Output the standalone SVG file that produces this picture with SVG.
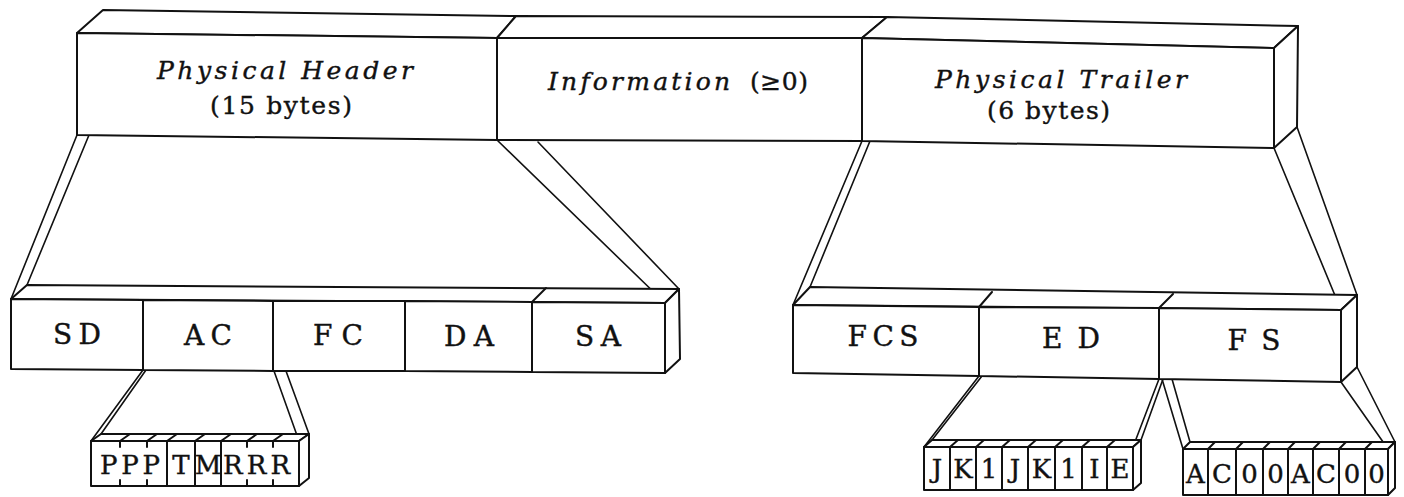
<svg xmlns="http://www.w3.org/2000/svg" width="1404" height="497" viewBox="0 0 1404 497">
  <style>
    .face { fill: #fff; stroke: #111; stroke-width: 2; stroke-linejoin: round; }
    .ln { fill: none; stroke: #111; stroke-width: 2; stroke-linecap: round; }
    .rib { fill: none; stroke: #111; stroke-width: 1.6; stroke-linecap: round; }
    text { fill: #111; stroke: #111; stroke-width: 0.4; font-family: "DejaVu Serif", "Liberation Serif", serif; }
    .it { font-style: italic; font-size: 25px; }
    .rm { font-size: 25px; }
    .fld { font-size: 28px; text-anchor: middle; }
    .bit { font-size: 26px; text-anchor: middle; }
  </style>

  <!-- ribbons joining each block to its expansion -->
  <g id="connectors">
    <path class="rib" d="M77,135 L11,299 M89,135 L27,285"/>
    <path class="rib" d="M497,140 L665,303 M538,142 L679,289"/>
    <path class="rib" d="M862,141 L793,305 M870,141 L810,287"/>
    <path class="rib" d="M1274,148 L1341,310 M1297,127 L1357,295"/>
    <path class="rib" d="M143,370 L91,441 M146,370 L101,434"/>
    <path class="rib" d="M274,371 L299,441 M286,371 L309,434"/>
    <path class="rib" d="M979,376 L924,447 M982,376 L932,440"/>
    <path class="rib" d="M1159,379 L1133,447 M1163,379 L1141,440"/>
    <path class="rib" d="M1162,379 L1183,449 M1172,379 L1190,442"/>
    <path class="rib" d="M1341,382 L1388,449 M1357,367 L1395,442"/>
  </g>

  <!-- frame: header / information / trailer -->
  <g id="physical-header">
    <polygon class="face" points="77,33 103,10 516,16 497,38"/>
    <polygon class="face" points="77,33 497,38 497,140 77,135"/>
    <text class="it" x="157" y="79" textLength="256" lengthAdjust="spacing">Physical Header</text>
    <text class="rm" x="210" y="114" textLength="142" lengthAdjust="spacing">(15 bytes)</text>
  </g>
  <g id="information">
    <polygon class="face" points="497,38 516,16 887,17 862,38"/>
    <polygon class="face" points="497,38 862,38 862,141 497,140"/>
    <text class="it" x="548" y="90" textLength="182" lengthAdjust="spacing">Information</text>
    <text class="rm" x="750" y="90" textLength="58" lengthAdjust="spacing">(≥0)</text>
  </g>
  <g id="physical-trailer">
    <polygon class="face" points="862,38 887,17 1298,26 1274,48"/>
    <polygon class="face" points="862,38 1274,48 1274,148 862,141"/>
    <polygon class="face" points="1274,48 1298,26 1297,127 1274,148"/>
    <text class="it" x="935" y="88" textLength="252" lengthAdjust="spacing">Physical Trailer</text>
    <text class="rm" x="987" y="119" textLength="123" lengthAdjust="spacing">(6 bytes)</text>
  </g>

  <!-- header fields -->
  <g id="header-fields">
    <polygon class="face" points="11,299 27,285 679,289 665,303"/>
    <polygon class="face" points="665,303 679,289 680,359 665,373"/>
    <path class="ln" d="M532,302 L546,288"/>
    <g id="sd">
      <polygon class="face" points="11,299 143,300 143,370 11,369"/>
      <text class="fld" x="77" y="344" textLength="48" lengthAdjust="spacing">S D</text>
    </g>
    <g id="ac">
      <polygon class="face" points="143,300 273,301 273,371 143,370"/>
      <text class="fld" x="208" y="345" textLength="48" lengthAdjust="spacing">A C</text>
    </g>
    <g id="fc">
      <polygon class="face" points="273,301 405,301 405,371 273,371"/>
      <text class="fld" x="338" y="345" textLength="50" lengthAdjust="spacing">F C</text>
    </g>
    <g id="da">
      <polygon class="face" points="405,301 532,302 532,372 405,371"/>
      <text class="fld" x="469" y="346" textLength="50" lengthAdjust="spacing">D A</text>
    </g>
    <g id="sa">
      <polygon class="face" points="532,302 665,303 665,373 532,372"/>
      <text class="fld" x="598" y="346" textLength="46" lengthAdjust="spacing">S A</text>
    </g>
  </g>

  <!-- trailer fields -->
  <g id="trailer-fields">
    <polygon class="face" points="793,305 810,287 1357,295 1341,310"/>
    <polygon class="face" points="1341,310 1357,295 1357,367 1341,382"/>
    <path class="ln" d="M979,307 L992,292 M1159,308 L1173,294"/>
    <g id="fcs">
      <polygon class="face" points="793,305 979,307 979,376 793,373"/>
      <text class="fld" x="883" y="346" textLength="71" lengthAdjust="spacing">F C S</text>
    </g>
    <g id="ed">
      <polygon class="face" points="979,307 1159,308 1159,379 979,376"/>
      <text class="fld" x="1071" y="348" textLength="58" lengthAdjust="spacing">E D</text>
    </g>
    <g id="fs">
      <polygon class="face" points="1159,308 1341,310 1341,382 1159,379"/>
      <text class="fld" x="1254" y="350" textLength="53" lengthAdjust="spacing">F S</text>
    </g>
  </g>

  <!-- access control octet -->
  <g id="access-control">
    <polygon class="face" points="91,441 101,434 309,434 299,441"/>
    <polygon class="face" points="299,441 309,434 309,478 299,486"/>
    <polygon class="face" points="91,441 299,441 299,486 91,486"/>
    <path class="ln" d="M120,441 L130,434 M147,441 L157,434 M167,441 L177,434 M195,441 L205,434 M221,441 L231,434 M247,441 L257,434 M273,441 L283,434"/>
    <path class="ln" d="M167,441 V486 M195,441 V486 M221,441 V486"/>
    <path class="ln" d="M120,441 V447 M147,441 V447 M247,441 V447 M273,441 V447 M120,480 V486 M147,480 V486 M247,480 V486 M273,480 V486"/>
    <text class="rm" x="100" y="474" textLength="60" lengthAdjust="spacing" style="font-size:26px">PPP</text>
    <text class="bit" x="181" y="474">T</text>
    <text class="bit" x="208" y="474">M</text>
    <text class="rm" x="223" y="474" textLength="67" lengthAdjust="spacing" style="font-size:26px">RRR</text>
  </g>

  <!-- ending delimiter octet -->
  <g id="ending-delimiter">
    <polygon class="face" points="924,447 932,440 1141,440 1133,447"/>
    <polygon class="face" points="1133,447 1141,440 1141,483 1133,490"/>
    <polygon class="face" points="924,447 1133,447 1133,490 924,490"/>
    <path class="ln" d="M950,447 L958,440 M976,447 L984,440 M1002,447 L1010,440 M1028,447 L1036,440 M1055,447 L1063,440 M1082,447 L1090,440 M1107,447 L1115,440"/>
    <path class="ln" d="M950,447 V490 M976,447 V490 M1002,447 V490 M1028,447 V490 M1055,447 V490 M1082,447 V490 M1107,447 V490"/>
    <text class="bit" x="937" y="478">J</text>
    <text class="bit" x="963" y="478">K</text>
    <text class="bit" x="989" y="478">1</text>
    <text class="bit" x="1015" y="478">J</text>
    <text class="bit" x="1041.5" y="478">K</text>
    <text class="bit" x="1068.5" y="478">1</text>
    <text class="bit" x="1094.5" y="478">I</text>
    <text class="bit" x="1120" y="478">E</text>
  </g>

  <!-- frame status octet -->
  <g id="frame-status">
    <polygon class="face" points="1183,449 1190,442 1395,442 1388,449"/>
    <polygon class="face" points="1388,449 1395,442 1395,488 1388,495"/>
    <polygon class="face" points="1183,449 1388,449 1388,495 1183,495"/>
    <path class="ln" d="M1208,449 L1215,442 M1236,449 L1243,442 M1263,449 L1270,442 M1288,449 L1295,442 M1313,449 L1320,442 M1339,449 L1346,442 M1365,449 L1372,442"/>
    <path class="ln" d="M1208,449 V495 M1236,449 V495 M1263,449 V495 M1288,449 V495 M1313,449 V495 M1339,449 V495 M1365,449 V495"/>
    <text class="bit" x="1195.5" y="483">A</text>
    <text class="bit" x="1222" y="483">C</text>
    <text class="bit" x="1249.5" y="483">0</text>
    <text class="bit" x="1275.5" y="483">0</text>
    <text class="bit" x="1300.5" y="483">A</text>
    <text class="bit" x="1326" y="483">C</text>
    <text class="bit" x="1352" y="483">0</text>
    <text class="bit" x="1376.5" y="483">0</text>
  </g>
</svg>
